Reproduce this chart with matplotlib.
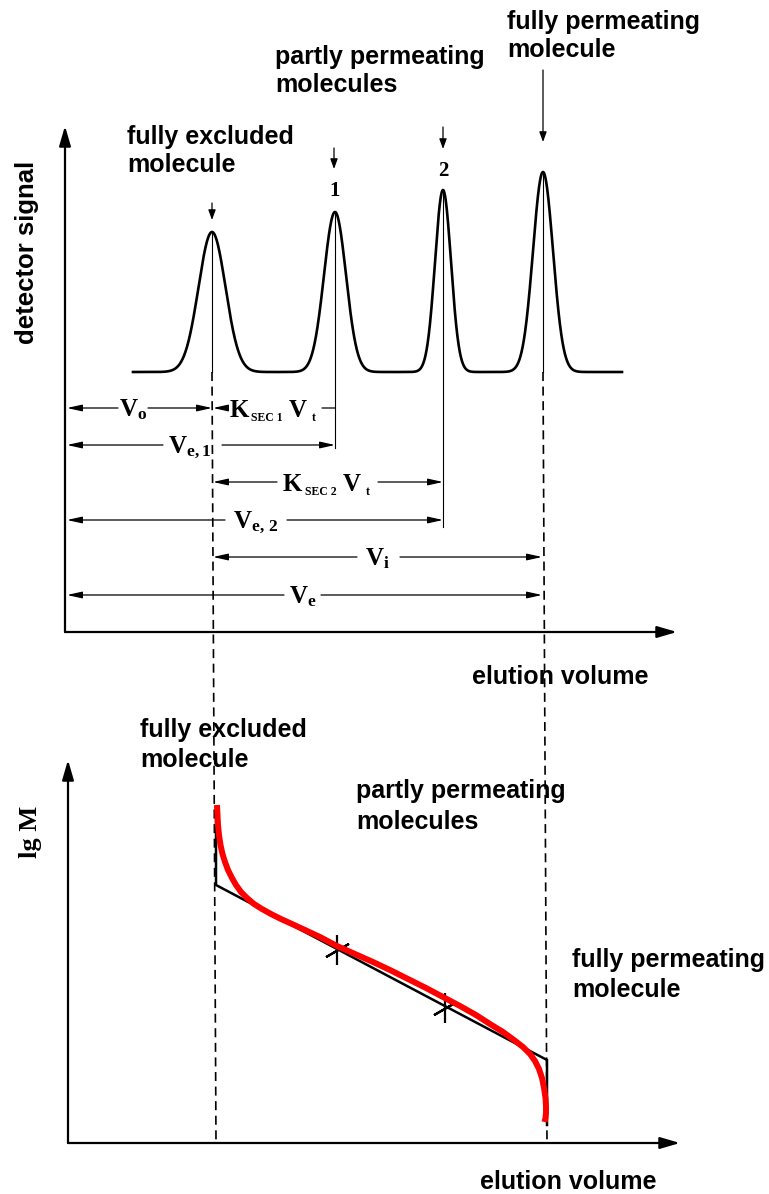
import numpy as np
import matplotlib
matplotlib.use("Agg")
import matplotlib.pyplot as plt

plt.rcParams["mathtext.fontset"] = "custom"
plt.rcParams["mathtext.rm"] = "Liberation Serif:bold"
plt.rcParams["mathtext.bf"] = "Liberation Serif:bold"
plt.rcParams["mathtext.it"] = "Liberation Serif:bold"
plt.rcParams["lines.scale_dashes"] = False

SANS = "Liberation Sans"
SERIF = "Liberation Serif"

# ---- chromatogram (top panel, drawing units = pixels, y downwards) ----
peak_volumes = [212, 335, 443, 543]        # V0, Ve1, Ve2, Vt
peak_heights = [140, 160, 182, 200]        # signal above baseline
peak_widths = [13.5, 11.0, 8.0, 10.0]      # gaussian sigma
baseline_level = 372
signal_range = [133, 622]

# ---- calibration curve (bottom panel) ----
calib_x = [216, 216, 547, 547]
calib_y = [807, 885, 1060, 1125]
calib_points_x = [337, 445]
calib_points_y = [950, 1008]
fit_x = [217, 217.5, 218, 219, 220.5, 222.5, 225, 228, 232, 236, 241, 247, 254,
         262, 271, 281, 292, 305, 320, 337, 355, 373, 390, 408, 426, 443, 460,
         476, 490, 503, 514, 523, 530, 535, 539, 542, 544, 545.5, 546, 546, 545.5, 544.5]
fit_y = [805, 815, 825, 835, 845, 854, 862, 870, 878, 885, 892, 898, 904,
         909, 914, 919, 924, 930, 937, 946, 954, 962, 970, 979, 988, 997, 1006,
         1015, 1024, 1032, 1040, 1047, 1054, 1061, 1069, 1078, 1088, 1098, 1106, 1113, 1118, 1122]

fig = plt.figure(figsize=(7.69, 11.94), dpi=100)
ax = fig.add_axes([0, 0, 1, 1])
ax.set_xlim(0, 769)
ax.set_ylim(1194, 0)
ax.axis("off")

K = "black"


def axis_arrow(x0, y0, x1, y1):
    ax.annotate("", xy=(x1, y1), xytext=(x0, y0),
                arrowprops=dict(arrowstyle="-|>,head_length=1.2,head_width=0.35",
                                lw=1.6, color=K, shrinkA=0, shrinkB=0,
                                mutation_scale=10))


def small_arrow(x, y0, y1):
    ax.annotate("", xy=(x, y1), xytext=(x, y0),
                arrowprops=dict(arrowstyle="-|>,head_length=0.6,head_width=0.22",
                                lw=0.9, color=K, shrinkA=0, shrinkB=0,
                                mutation_scale=10))


def dim_piece(x0, x1, y, head_left=False, head_right=False):
    if head_left and head_right:
        style = "<|-|>"
    elif head_left:
        style = "<|-"
    elif head_right:
        style = "-|>"
    else:
        style = "-"
    ax.annotate("", xy=(x1, y), xytext=(x0, y),
                arrowprops=dict(arrowstyle=style + (",head_length=0.9,head_width=0.2" if style != "-" else ""),
                                lw=0.9, color=K, shrinkA=0, shrinkB=0,
                                mutation_scale=10))


# axes
axis_arrow(65, 632, 65, 126)
axis_arrow(65, 632, 677, 632)
axis_arrow(68, 1143, 68, 760)
axis_arrow(68, 1143, 680, 1143)

# chromatogram trace
xs = np.linspace(signal_range[0], signal_range[1], 2000)
ys = np.full_like(xs, float(baseline_level))
for c, h, s in zip(peak_volumes, peak_heights, peak_widths):
    ys -= h * np.exp(-0.5 * ((xs - c) / s) ** 2)
ax.plot(xs, ys, color=K, lw=1.9, solid_joinstyle="round")

# thin verticals through the peak maxima
tops = [baseline_level - h for h in peak_heights]
ax.plot([peak_volumes[0]] * 2, [tops[0], baseline_level], color=K, lw=0.8)
ax.plot([peak_volumes[1]] * 2, [tops[1], 448], color=K, lw=0.8)
ax.plot([peak_volumes[2]] * 2, [tops[2], 527], color=K, lw=0.8)
ax.plot([peak_volumes[3]] * 2, [tops[3], baseline_level], color=K, lw=0.8)

# dashed guides down to the calibration plot
ax.plot([peak_volumes[0], calib_x[0]], [baseline_level, 1143], color=K, lw=1.2,
        dashes=(6.5, 4))
ax.plot([peak_volumes[3], calib_x[-1]], [baseline_level, 1143], color=K, lw=1.2,
        dashes=(6.5, 4))

# markers above the peaks
small_arrow(212, 203, 220)
small_arrow(334, 148, 169)
small_arrow(443, 127, 149)
small_arrow(543, 70, 142)
ax.text(335, 191, "1", family=SERIF, weight="bold", fontsize=15, ha="center", va="center")
ax.text(443, 171, "2", family=SERIF, weight="bold", fontsize=15, ha="center", va="center")

# dimension lines
x_axis0 = 67
V0, V1, V2, VT = peak_volumes
dim_piece(x_axis0, 118, 408, head_left=True)
dim_piece(148, V0, 408, head_right=True)
ax.text(133, 416, r"$\mathrm{V_o}$", fontsize=18, ha="center", va="baseline")

dim_piece(V0 + 1, 228, 408, head_left=True)
dim_piece(322, V1, 408)
ax.text(230, 417, "K", family=SERIF, weight="bold", fontsize=18, ha="left", va="baseline")
ax.text(251, 421, "SEC 1", family=SERIF, weight="bold", fontsize=8.5, ha="left", va="baseline")
ax.text(289, 417, "V", family=SERIF, weight="bold", fontsize=18, ha="left", va="baseline")
ax.text(312, 421, "t", family=SERIF, weight="bold", fontsize=8.5, ha="left", va="baseline")

dim_piece(x_axis0, 163, 445, head_left=True)
dim_piece(222, V1, 445, head_right=True)
ax.text(190, 453, r"$\mathrm{V_{e,1}}$", fontsize=18, ha="center", va="baseline")

dim_piece(V0 + 1, 277, 482, head_left=True)
dim_piece(378, V2, 482, head_right=True)
ax.text(283, 491, "K", family=SERIF, weight="bold", fontsize=18, ha="left", va="baseline")
ax.text(305, 495, "SEC 2", family=SERIF, weight="bold", fontsize=8.5, ha="left", va="baseline")
ax.text(343, 491, "V", family=SERIF, weight="bold", fontsize=18, ha="left", va="baseline")
ax.text(366, 495, "t", family=SERIF, weight="bold", fontsize=8.5, ha="left", va="baseline")

dim_piece(x_axis0, 225, 520, head_left=True)
dim_piece(287, V2, 520, head_right=True)
ax.text(256, 528, r"$\mathrm{V_{e,\,2}}$", fontsize=18, ha="center", va="baseline")

dim_piece(V0 + 1, 357, 557, head_left=True)
dim_piece(400, VT - 1, 557, head_right=True)
ax.text(377, 565, r"$\mathrm{V_i}$", fontsize=18, ha="center", va="baseline")

dim_piece(x_axis0, 284, 595, head_left=True)
dim_piece(321, VT - 1, 595, head_right=True)
ax.text(303, 603, r"$\mathrm{V_e}$", fontsize=18, ha="center", va="baseline")

# calibration plot
ax.plot(calib_x, calib_y, color=K, lw=1.8, solid_joinstyle="miter")
ax.plot(calib_points_x, calib_points_y, ls="none", marker="|", ms=22, mew=1.6, color=K)
ax.plot(calib_points_x, calib_points_y, ls="none", marker=(2, 2, -60), ms=19, mew=1.6, color=K)
ax.plot(fit_x, fit_y, color="#ff0000", lw=4.3, solid_joinstyle="round", solid_capstyle="butt")

# labels
lab = dict(family=SANS, weight="bold", fontsize=18, ha="left", va="center")
ax.text(507, 22, "fully permeating", **lab)
ax.text(507, 50, "molecule", **lab)
ax.text(275, 57, "partly permeating", **lab)
ax.text(275, 85, "molecules", **lab)
ax.text(127, 137, "fully excluded", **lab)
ax.text(127, 165, "molecule", **lab)
ax.text(472, 677, "elution volume", **lab)
ax.text(27, 252, "detector signal", family=SANS, weight="bold", fontsize=18.5,
        rotation=90, ha="center", va="center")

ax.text(140, 730, "fully excluded", **lab)
ax.text(140, 760, "molecule", **lab)
ax.text(356, 791, "partly permeating", **lab)
ax.text(356, 822, "molecules", **lab)
ax.text(572, 960, "fully permeating", **lab)
ax.text(572, 990, "molecule", **lab)
ax.text(480, 1182, "elution volume", **lab)
ax.text(30, 832, "lg M", family=SERIF, weight="bold", fontsize=19,
        rotation=90, ha="center", va="center")

fig.savefig("out.png", dpi=100)
